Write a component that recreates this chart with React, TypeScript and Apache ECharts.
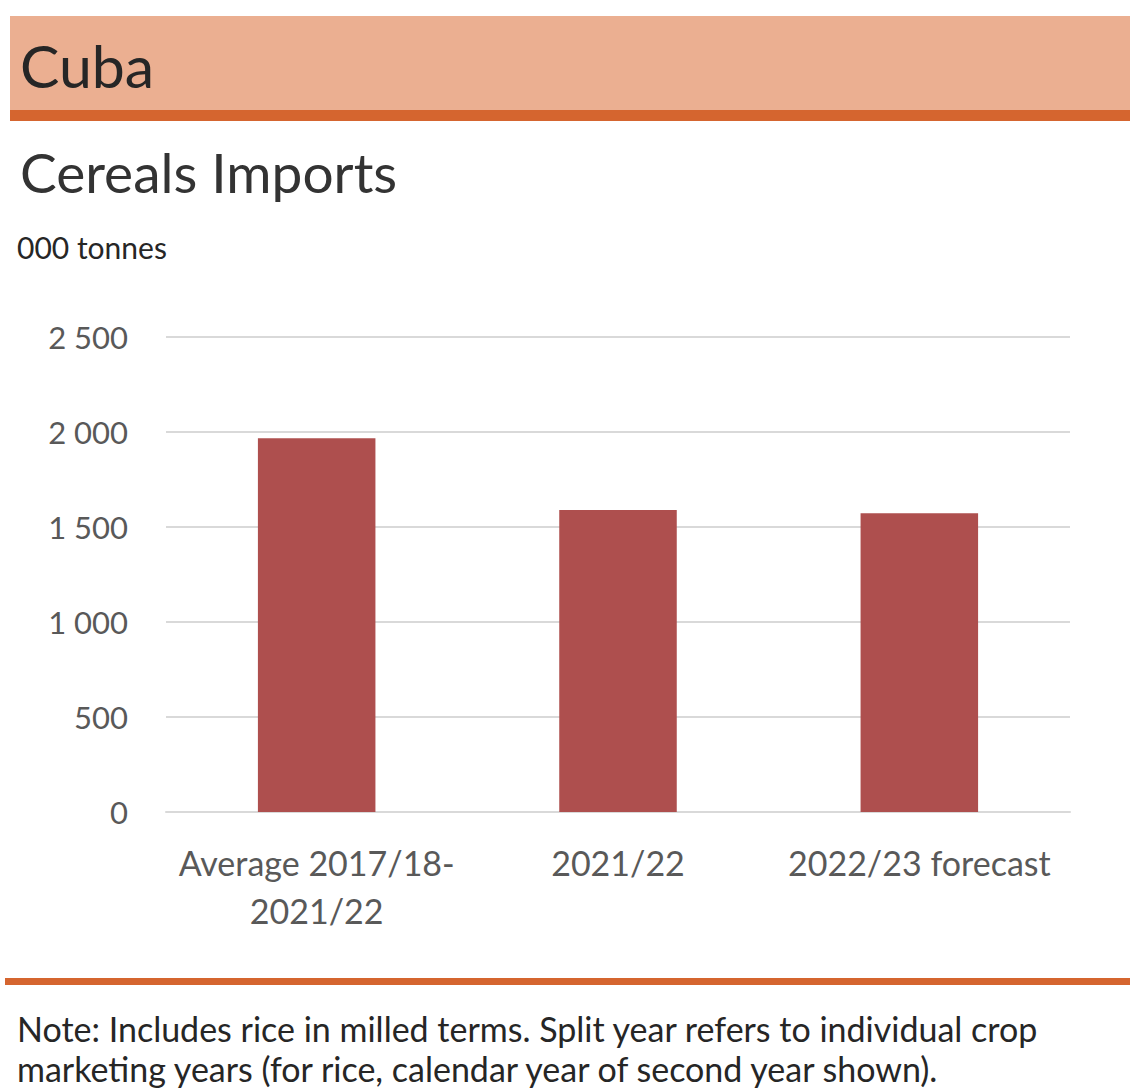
import React, { useEffect, useRef } from "react";
import * as echarts from "echarts";

const categories = ["Average 2017/18-\n2021/22", "2021/22", "2022/23 forecast"];
const imports = [1967, 1589, 1572];
const yTicks = [0, 500, 1000, 1500, 2000, 2500];

const title = "Cuba";
const subtitle = "Cereals Imports";
const unit = "000 tonnes";
const noteLines = [
  "Note: Includes rice in milled terms. Split year refers to individual crop",
  "marketing years (for rice, calendar year of second year shown).",
];

const FONT = "Lato, 'Open Sans', sans-serif";

export default function App() {
  const ref = useRef<HTMLDivElement>(null);
  useEffect(() => {
    const chart = echarts.init(ref.current!, null, { renderer: "svg" });
    chart.setOption({
      animation: false,
      backgroundColor: "#ffffff",
      textStyle: { fontFamily: FONT },
      grid: { left: 166, right: 60, top: 337, bottom: 280, containLabel: false },
      xAxis: {
        type: "category",
        data: categories,
        axisLine: { show: true, lineStyle: { color: "#d9d9d9", width: 2 } },
        axisTick: { show: false },
        axisLabel: {
          color: "#595959",
          fontSize: 34,
          lineHeight: 48,
          margin: 26,
          fontFamily: FONT,
          interval: 0,
        },
      },
      yAxis: {
        type: "value",
        min: yTicks[0],
        max: yTicks[yTicks.length - 1],
        interval: 500,
        axisLine: { show: false },
        axisTick: { show: false },
        splitLine: { lineStyle: { color: "#d9d9d9", width: 2 } },
        axisLabel: {
          color: "#595959",
          fontSize: 31,
          margin: 38,
          fontFamily: FONT,
          formatter: (v: number) =>
            String(v).replace(/\B(?=(\d{3})+(?!\d))/g, " "),
        },
      },
      series: [
        {
          type: "bar",
          data: imports,
          barWidth: "39%",
          itemStyle: { color: "#AE4F4E" },
        },
      ],
      graphic: [
        { type: "rect", shape: { x: 10, y: 16, width: 1120, height: 94 }, style: { fill: "#EBAF91" } },
        { type: "rect", shape: { x: 10, y: 110, width: 1120, height: 11 }, style: { fill: "#D5652F" } },
        {
          type: "text",
          x: 20,
          y: 65,
          style: { text: title, fontSize: 59, fontFamily: FONT, fill: "#262626", verticalAlign: "middle" },
        },
        {
          type: "text",
          x: 20,
          y: 172,
          style: { text: subtitle, fontSize: 55, fontFamily: FONT, fill: "#333333", verticalAlign: "middle" },
        },
        {
          type: "text",
          x: 17,
          y: 247,
          style: { text: unit, fontSize: 30, fontFamily: FONT, fill: "#262626", verticalAlign: "middle" },
        },
        { type: "rect", shape: { x: 5, y: 978, width: 1125, height: 7 }, style: { fill: "#D5652F" } },
        {
          type: "text",
          x: 17,
          y: 1028,
          style: { text: noteLines[0], fontSize: 34, fontFamily: FONT, fill: "#262626", verticalAlign: "middle" },
        },
        {
          type: "text",
          x: 17,
          y: 1068,
          style: { text: noteLines[1], fontSize: 34, fontFamily: FONT, fill: "#262626", verticalAlign: "middle" },
        },
      ],
    });
    return () => chart.dispose();
  }, []);
  return (
    <div
      ref={ref}
      style={{ position: "fixed", left: 0, top: 0, width: 1130, height: 1092 }}
    />
  );
}
